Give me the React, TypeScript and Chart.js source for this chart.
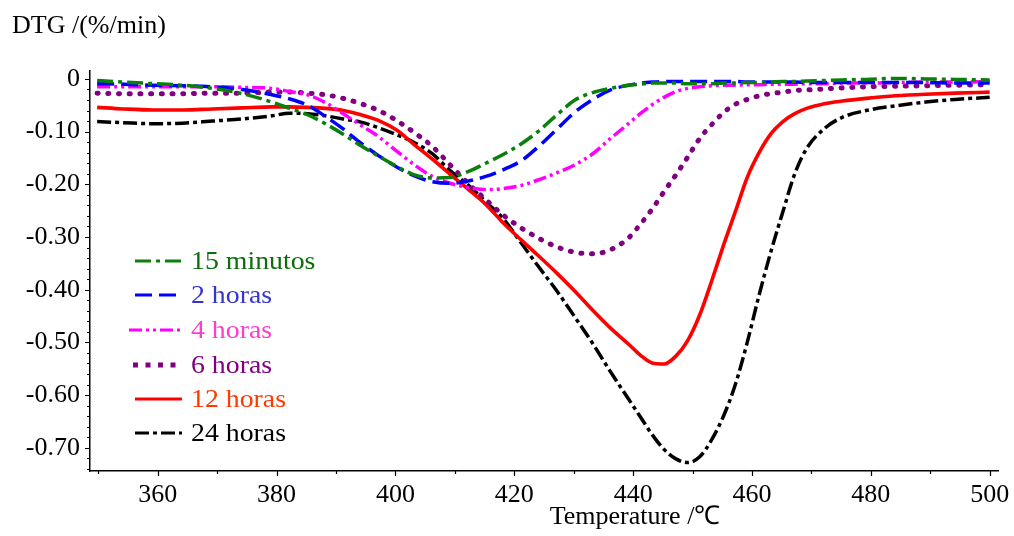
import React, { useEffect, useRef } from "react";
import { Chart, registerables } from "chart.js";

Chart.register(...registerables);

const FONT = "'Liberation Serif', 'Times New Roman', Times, serif";

// Temperature (°C) sample positions
const temps = [
  349.8, 354.2, 359.2, 364.2, 369.2, 374.2, 379.2, 382.2, 385.2, 388.2, 391.2, 394.2, 397.2, 400.2,
  403.2, 406.2, 409.2, 412.2, 415.2, 418.2, 421.2, 424.2, 427.2, 430.2, 433.2, 436.2, 439.2, 441.2,
  443.2, 445.2, 447.2, 449.2, 451.2, 453.2, 455.2, 457.2, 459.2, 461.2, 463.2, 465.2, 467.2, 469.2,
  472.2, 475.2, 479.2, 484.2, 489.2, 494.2, 500,
];

const min15 = [
  -0.003, -0.006, -0.009, -0.012, -0.018, -0.028, -0.044, -0.056, -0.068, -0.085, -0.105, -0.127, -0.147, -0.166,
  -0.182, -0.188, -0.187, -0.176, -0.16, -0.143, -0.123, -0.098, -0.068, -0.04, -0.026, -0.018, -0.012, -0.01,
  -0.008, -0.008, -0.008, -0.009, -0.009, -0.009, -0.008, -0.008, -0.007, -0.007, -0.006, -0.005, -0.005, -0.004,
  -0.003, -0.002, -0.001, 0.001, 0.0, -0.001, -0.002,
];

const h2 = [
  -0.009, -0.01, -0.012, -0.013, -0.015, -0.02, -0.03, -0.038, -0.05, -0.071, -0.095, -0.122, -0.146, -0.167,
  -0.184, -0.195, -0.198, -0.194, -0.185, -0.172, -0.155, -0.127, -0.095, -0.063, -0.039, -0.021, -0.012, -0.008,
  -0.006, -0.005, -0.005, -0.005, -0.005, -0.005, -0.005, -0.005, -0.006, -0.006, -0.006, -0.006, -0.006, -0.007,
  -0.007, -0.007, -0.007, -0.007, -0.007, -0.008, -0.008,
];

const h4 = [
  -0.015, -0.015, -0.015, -0.015, -0.015, -0.016, -0.018, -0.024, -0.03, -0.045, -0.066, -0.088, -0.11, -0.137,
  -0.163, -0.185, -0.198, -0.206, -0.21, -0.208, -0.202, -0.191, -0.178, -0.163, -0.142, -0.113, -0.085, -0.066,
  -0.049, -0.035, -0.024, -0.018, -0.015, -0.013, -0.012, -0.012, -0.011, -0.011, -0.01, -0.01, -0.01, -0.009,
  -0.009, -0.008, -0.008, -0.007, -0.006, -0.006, -0.005,
];

const h6 = [
  -0.027, -0.028, -0.028, -0.028, -0.027, -0.027, -0.025, -0.025, -0.027, -0.03, -0.037, -0.047, -0.06, -0.079,
  -0.102, -0.128, -0.163, -0.198, -0.229, -0.259, -0.283, -0.303, -0.319, -0.329, -0.332, -0.324, -0.302, -0.276,
  -0.247, -0.214, -0.182, -0.148, -0.113, -0.087, -0.064, -0.048, -0.039, -0.032, -0.028, -0.025, -0.022, -0.021,
  -0.019, -0.017, -0.015, -0.014, -0.013, -0.012, -0.011,
];

const h12 = [
  -0.054, -0.057, -0.059, -0.059, -0.057, -0.055, -0.053, -0.053, -0.054, -0.056, -0.06, -0.068, -0.079, -0.097,
  -0.125, -0.152, -0.181, -0.209, -0.238, -0.274, -0.306, -0.337, -0.369, -0.403, -0.439, -0.473, -0.503, -0.524,
  -0.539, -0.541, -0.526, -0.496, -0.448, -0.384, -0.316, -0.252, -0.187, -0.14, -0.104, -0.081, -0.066, -0.056,
  -0.047, -0.042, -0.037, -0.032, -0.029, -0.027, -0.025,
];

const h24 = [
  -0.081, -0.083, -0.085, -0.084, -0.08, -0.076, -0.07, -0.065, -0.066, -0.07, -0.076, -0.082, -0.093, -0.106,
  -0.121, -0.142, -0.174, -0.201, -0.233, -0.266, -0.312, -0.358, -0.403, -0.452, -0.502, -0.556, -0.607, -0.641,
  -0.675, -0.703, -0.721, -0.728, -0.717, -0.685, -0.64, -0.58, -0.5, -0.41, -0.327, -0.252, -0.18, -0.132,
  -0.094, -0.073, -0.06, -0.051, -0.044, -0.039, -0.035,
];

const seriesNames = ["15 minutos", "2 horas", "4 horas", "6 horas", "12 horas", "24 horas"];
const seriesValues = [min15, h2, h4, h6, h12, h24];
const lineColors = ["#0a800a", "#0000ff", "#ff00ff", "#800080", "#ff0000", "#000000"];
const textColors = ["#0b6e0b", "#3535d0", "#ff3ccf", "#800080", "#ff3a00", "#000000"];
const dashes = [
  [16, 5, 4, 5],
  [17, 7],
  [13, 4, 3, 4, 3, 4],
  [1, 9.7],
  [],
  [14, 4, 4, 4],
];
const widths = [3.5, 3.5, 3.5, 5, 3.6, 3.5];
const caps = ["butt", "butt", "butt", "round", "butt", "butt"];

const xTicks = [360, 380, 400, 420, 440, 460, 480, 500];
const xMinorTicks = [350, 370, 390, 410, 430, 450, 470, 490];
const yTicks = [0, -0.1, -0.2, -0.3, -0.4, -0.5, -0.6, -0.7];
const yTickLabels = ["0", "-0.10", "-0.20", "-0.30", "-0.40", "-0.50", "-0.60", "-0.70"];
const yMinorTicks = [
  -0.02, -0.04, -0.06, -0.08, -0.12, -0.14, -0.16, -0.18, -0.22, -0.24, -0.26, -0.28, -0.32, -0.34,
  -0.36, -0.38, -0.42, -0.44, -0.46, -0.48, -0.52, -0.54, -0.56, -0.58, -0.62, -0.64, -0.66, -0.68, -0.72, -0.74,
];

const yTitle = "DTG /(%/min)";
const xTitle = "Temperature /℃";

const legendRowsY = [261, 295, 330, 365, 399, 433];

const decorPlugin = {
  id: "decor",
  afterDraw(chart: any) {
    const ctx = chart.ctx;
    const xs = chart.scales.x;
    const ys = chart.scales.y;
    const area = chart.chartArea;
    ctx.save();
    ctx.strokeStyle = "#000";
    ctx.lineWidth = 1.2;
    ctx.setLineDash([]);
    ctx.beginPath();
    yTicks.forEach((v) => {
      const y = Math.round(ys.getPixelForValue(v)) + 0.5;
      ctx.moveTo(area.left - 5, y);
      ctx.lineTo(area.left, y);
    });
    yMinorTicks.forEach((v) => {
      const y = Math.round(ys.getPixelForValue(v)) + 0.5;
      ctx.moveTo(area.left - 3, y);
      ctx.lineTo(area.left, y);
    });
    xTicks.forEach((v) => {
      const x = Math.round(xs.getPixelForValue(v)) + 0.5;
      ctx.moveTo(x, area.bottom);
      ctx.lineTo(x, area.bottom + 5);
    });
    xMinorTicks.forEach((v) => {
      const x = Math.round(xs.getPixelForValue(v)) + 0.5;
      ctx.moveTo(x, area.bottom);
      ctx.lineTo(x, area.bottom + 3);
    });
    ctx.stroke();

    ctx.fillStyle = "#000";
    ctx.font = `26px ${FONT}`;
    ctx.textBaseline = "alphabetic";
    ctx.textAlign = "left";
    ctx.fillText(yTitle, 12, 33);
    ctx.textAlign = "center";
    ctx.fillText(xTitle, 635, 524);

    // legend
    ctx.textAlign = "left";
    seriesNames.forEach((name, i) => {
      const y = legendRowsY[i];
      ctx.beginPath();
      ctx.strokeStyle = lineColors[i];
      ctx.lineWidth = i === 3 ? 5 : 3.2;
      ctx.lineCap = i === 3 ? "butt" : (caps[i] as CanvasLineCap);
      ctx.setLineDash(i === 3 ? [5, 7.5] : dashes[i]);
      const x0 = i === 2 ? 129 : i === 3 ? 133 : 135;
      ctx.moveTo(x0, y);
      ctx.lineTo(182, y);
      ctx.stroke();
      ctx.setLineDash([]);
      ctx.fillStyle = textColors[i];
      ctx.save();
      ctx.translate(191, y + 8);
      ctx.scale(1.07, 1);
      ctx.fillText(name, 0, 0);
      ctx.restore();
    });
    ctx.restore();
  },
};

export default function App() {
  const canvasRef = useRef<HTMLCanvasElement | null>(null);

  useEffect(() => {
    document.body.style.margin = "0";
    const canvas = canvasRef.current;
    if (!canvas) return;
    const datasets = seriesNames.map((name, i) => ({
      label: name,
      data: temps.map((t, j) => ({ x: t, y: seriesValues[i][j] })),
      borderColor: lineColors[i],
      backgroundColor: lineColors[i],
      borderWidth: widths[i],
      borderDash: dashes[i],
      borderCapStyle: caps[i],
      pointRadius: 0,
      fill: false,
      cubicInterpolationMode: "monotone" as const,
    }));

    const chart = new Chart(canvas, {
      type: "line",
      data: { datasets: datasets as any },
      options: {
        animation: false,
        responsive: false,
        devicePixelRatio: 1,
        layout: { padding: { left: 0, top: 71, right: 16, bottom: 0 } },
        plugins: {
          legend: { display: false },
          tooltip: { enabled: false },
          title: { display: false },
        },
        scales: {
          x: {
            type: "linear",
            min: 348.6,
            max: 501.4,
            grid: { display: false, drawTicks: false },
            border: { display: true, color: "#000", width: 1.5 },
            ticks: {
              color: "#000",
              font: { family: FONT, size: 26 },
              padding: 9,
              maxRotation: 0,
              autoSkip: false,
            },
            afterBuildTicks: (s: any) => {
              s.ticks = xTicks.map((v) => ({ value: v }));
            },
            afterFit: (s: any) => {
              s.height = 65;
              s.paddingLeft = 0;
              s.paddingRight = 0;
            },
          },
          y: {
            type: "linear",
            min: -0.744,
            max: 0.015,
            grid: { display: false, drawTicks: false },
            border: { display: true, color: "#000", width: 1.5 },
            ticks: {
              color: "#000",
              font: { family: FONT, size: 26 },
              padding: 10,
              autoSkip: false,
              callback: (v: any) => {
                const k = yTicks.indexOf(Number(v));
                return k >= 0 ? yTickLabels[k] : "";
              },
            },
            afterBuildTicks: (s: any) => {
              s.ticks = yTicks.map((v) => ({ value: v }));
            },
            afterFit: (s: any) => {
              s.width = 90;
              s.paddingTop = 0;
              s.paddingBottom = 0;
            },
          },
        },
      },
      plugins: [decorPlugin],
    });
    return () => chart.destroy();
  }, []);

  return (
    <div style={{ width: 1014, height: 536, position: "relative", background: "#fff" }}>
      <canvas ref={canvasRef} width={1014} height={536} style={{ display: "block" }} />
    </div>
  );
}
